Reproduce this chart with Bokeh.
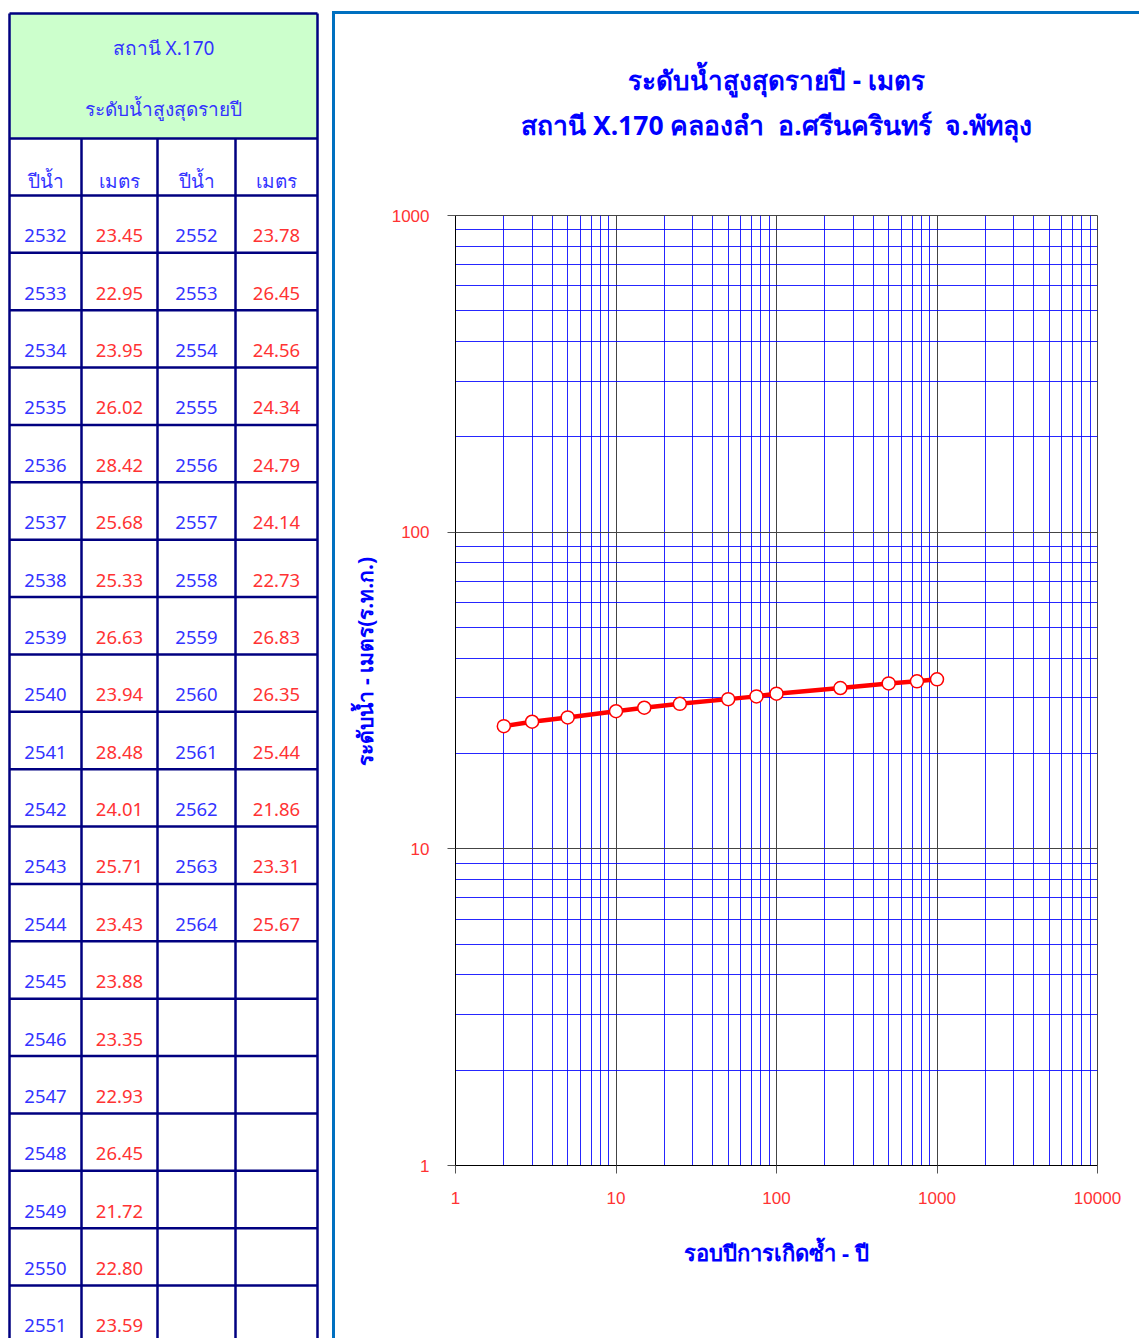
from bokeh.plotting import figure
from bokeh.layouts import row
from bokeh.models import Range1d, FixedTicker, PrintfTickFormatter, Title, LinearAxis
from bokeh.embed import file_html
from bokeh.resources import INLINE
from bokeh.core.properties import value

# ---------------- data ----------------
years_a = [2532, 2533, 2534, 2535, 2536, 2537, 2538, 2539, 2540, 2541,
           2542, 2543, 2544, 2545, 2546, 2547, 2548, 2549, 2550, 2551]
levels_a = [23.45, 22.95, 23.95, 26.02, 28.42, 25.68, 25.33, 26.63, 23.94, 28.48,
            24.01, 25.71, 23.43, 23.88, 23.35, 22.93, 26.45, 21.72, 22.80, 23.59]
years_b = [2552, 2553, 2554, 2555, 2556, 2557, 2558, 2559, 2560, 2561, 2562, 2563, 2564]
levels_b = [23.78, 26.45, 24.56, 24.34, 24.79, 24.14, 22.73, 26.83, 26.35, 25.44, 21.86, 23.31, 25.67]

return_period = [2, 3, 5, 10, 15, 25, 50, 75, 100, 250, 500, 750, 1000]
design_level = [24.4, 25.2, 26.0, 27.2, 27.9, 28.7, 29.7, 30.3, 30.9, 32.2, 33.3, 33.8, 34.3]

x_ticks = [1, 10, 100, 1000, 10000]
y_ticks = [1, 10, 100, 1000]

table_title = ["สถานี X.170", "ระดับน้ำสูงสุดรายปี"]
col_heads = ["ปีน้ำ", "เมตร", "ปีน้ำ", "เมตร"]
chart_title = ["ระดับน้ำสูงสุดรายปี - เมตร",
               "สถานี X.170 คลองลำ\u00a0 อ.ศรีนครินทร์\u00a0 จ.พัทลุง"]
x_title = "รอบปีการเกิดซ้ำ - ปี"
y_title = "ระดับน้ำ - เมตร(ร.ท.ก.)"

# ---------------- table ----------------
H = 1338
TW = 332
FONT = "Noto Sans"
NAVY = "#000080"
BLUE_T = "#3333FF"
RED_T = "#FF3333"

t = figure(width=TW, height=H, x_range=Range1d(0, TW), y_range=Range1d(H, 0),
           output_backend="svg", toolbar_location=None, min_border=0,
           x_axis_location=None, y_axis_location=None, frame_align=False)
t.grid.visible = False
t.outline_line_color = None

cols = [9, 81, 157, 235, 317]
head_top, head_bot, colhead_bot = 13, 138, 195
row_h = 57.37
n_rows = max(len(years_a), len(years_b))
row_bottoms = [colhead_bot + row_h * (k + 1) for k in range(n_rows)]

t.quad(left=[cols[0]], right=[cols[-1]], top=[head_top], bottom=[head_bot],
       fill_color="#CCFFCC", line_color=None)

hx0, hx1, hy = [], [], []
for yy in [head_top, head_bot, colhead_bot] + row_bottoms:
    hx0.append(cols[0]); hx1.append(cols[-1]); hy.append(yy)
t.segment(x0=hx0, y0=hy, x1=hx1, y1=hy, line_color=NAVY, line_width=2.5)
vx, vy0 = [], []
for i, cx in enumerate(cols):
    vx.append(cx)
    vy0.append(head_top if i in (0, len(cols) - 1) else head_bot)
t.segment(x0=vx, y0=vy0, x1=vx, y1=[H + 50] * len(vx), line_color=NAVY, line_width=2.5)

mid = (cols[0] + cols[-1]) / 2
t.text(x=[mid, mid], y=[47, 108], text=table_title, text_align="center", text_baseline="middle",
       text_color=BLUE_T, text_font=value(FONT), text_font_size="19px")

col_centers = [(cols[i] + cols[i + 1]) / 2 for i in range(4)]
t.text(x=col_centers, y=[colhead_bot - 15] * 4, text=col_heads, text_align="center",
       text_baseline="middle", text_color=BLUE_T, text_font=value(FONT), text_font_size="19px")

def add_cols(years, levels, cy, cv):
    ys = [colhead_bot + row_h * (k + 1) - 17 for k in range(len(years))]
    t.text(x=[cy] * len(years), y=ys, text=[str(v) for v in years], text_align="center",
           text_baseline="middle", text_color=BLUE_T, text_font=value(FONT), text_font_size="18.5px")
    t.text(x=[cv] * len(levels), y=ys, text=["%.2f" % v for v in levels], text_align="center",
           text_baseline="middle", text_color=RED_T, text_font=value(FONT), text_font_size="18.5px")

add_cols(years_a, levels_a, col_centers[0], col_centers[1])
add_cols(years_b, levels_b, col_centers[2], col_centers[3])

# ---------------- chart ----------------
W2 = 1139 - TW
p = figure(width=W2, height=H, x_axis_type="log", y_axis_type="log",
           x_range=Range1d(1, 10000), y_range=Range1d(1, 1000),
           output_backend="svg", toolbar_location=None, frame_align=False,
           min_border_left=123, min_border_right=42, min_border_top=215, min_border_bottom=173)
p.border_fill_color = None
p.styles = {
    "background": "linear-gradient(#0070C0,#0070C0) 0px 11px / 100% 3px no-repeat, "
                  "linear-gradient(#0070C0,#0070C0) 0px 11px / 3px 100% no-repeat, #ffffff"
}

minor_x = [m * d for d in x_ticks[:-1] for m in range(2, 10)]
minor_y = [m * d for d in y_ticks[:-1] for m in range(2, 10)]
p.xaxis.ticker = FixedTicker(ticks=x_ticks, minor_ticks=minor_x)
p.yaxis.ticker = FixedTicker(ticks=y_ticks, minor_ticks=minor_y)
p.axis.formatter = PrintfTickFormatter(format="%d")
p.axis.major_tick_out = 8
p.axis.major_tick_in = 0
p.axis.minor_tick_out = 0
p.axis.minor_tick_in = 0
p.axis.axis_line_color = "black"
p.axis.major_tick_line_color = "#555555"
p.axis.major_label_text_color = "#FF3333"
p.axis.major_label_text_font = "Liberation Sans"
p.axis.major_label_text_font_size = "17px"
p.axis.major_label_standoff = 18
p.xaxis.axis_label = x_title
p.xaxis.axis_label_text_color = "#0000FF"
p.xaxis.axis_label_text_font = FONT
p.xaxis.axis_label_text_font_style = "bold"
p.xaxis.axis_label_text_font_size = "22px"
p.xaxis.axis_label_standoff = 30

p.grid.grid_line_color = "#444444"
p.grid.grid_line_alpha = 1.0
p.grid.minor_grid_line_color = "#0000FF"
p.grid.minor_grid_line_alpha = 0.85
p.outline_line_color = "#444444"

p.line(return_period, design_level, line_color="#FF0000", line_width=4.5)
p.scatter(return_period, design_level, size=13, fill_color="white",
          line_color="#FF0000", line_width=1.5)

# y axis title as a left-side Title so it can be shifted along the axis
p.add_layout(Title(text=y_title, align="left", offset=400, standoff=20,
                   text_color="#0000FF", text_font=FONT, text_font_style="bold",
                   text_font_size="21px"), "left")

# chart title: second line as an empty axis label above the frame, first line as a Title
p.title = None
top_axis = LinearAxis(ticker=FixedTicker(ticks=[], minor_ticks=[]), axis_line_color=None,
                      major_tick_line_color=None, minor_tick_line_color=None,
                      major_label_text_font_size="0px",
                      axis_label=chart_title[1], axis_label_standoff=73,
                      axis_label_text_color="#0000FF", axis_label_text_font=FONT,
                      axis_label_text_font_style="bold", axis_label_text_font_size="26.5px")
p.add_layout(top_axis, "above")
p.add_layout(Title(text=chart_title[0], align="center", standoff=12, text_color="#0000FF",
                   text_font=FONT, text_font_style="bold", text_font_size="26px"), "above")

layout = row(t, p, spacing=0)
open("out.html", "w").write(file_html(layout, INLINE))
